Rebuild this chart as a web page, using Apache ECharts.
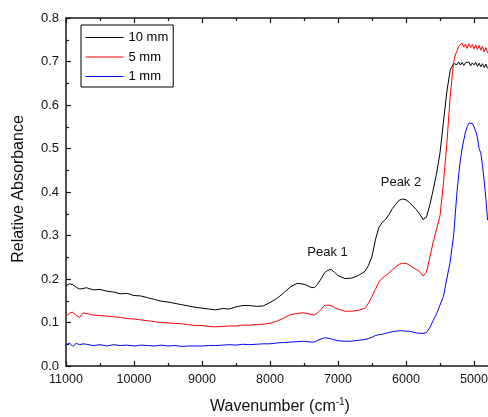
<!DOCTYPE html>
<html>
<head>
<meta charset="utf-8">
<style>
html,body{margin:0;padding:0;background:#fff;}
#chart{width:488px;height:417px;}
</style>
<script src="https://cdn.jsdelivr.net/npm/echarts@6/dist/echarts.min.js"></script>
</head>
<body>
<div id="chart"></div>
<script>
// Wavenumber grid (cm^-1)
const wavenumber = [11000,10950,10900,10850,10800,10750,10700,10600,10500,10400,10300,10200,10100,10000,9900,9800,9700,9600,9500,9400,9300,9200,9100,9000,8900,8800,8700,8600,8500,8400,8300,8200,8100,8000,7900,7800,7700,7600,7500,7400,7350,7300,7250,7200,7150,7100,7050,7000,6900,6800,6700,6600,6550,6500,6450,6400,6350,6300,6250,6200,6150,6100,6050,6000,5950,5900,5850,5800,5750,5700,5650,5600,5550,5500,5450,5400,5350,5300,5275,5250,5225,5200,5175,5150,5125,5100,5075,5050,5025,5000,4975,4950,4925,4900,4875,4850,4825,4800];

const seriesNames = ['10 mm', '5 mm', '1 mm'];

const abs10mm = [0.184,0.189,0.187,0.181,0.177,0.178,0.180,0.175,0.176,0.172,0.170,0.166,0.167,0.162,0.161,0.157,0.153,0.149,0.147,0.144,0.141,0.138,0.135,0.133,0.131,0.129,0.132,0.131,0.136,0.139,0.139,0.137,0.138,0.146,0.155,0.168,0.182,0.190,0.188,0.181,0.180,0.188,0.200,0.214,0.220,0.222,0.215,0.208,0.201,0.202,0.208,0.218,0.232,0.252,0.290,0.318,0.330,0.337,0.348,0.362,0.372,0.381,0.384,0.382,0.376,0.368,0.360,0.350,0.337,0.342,0.370,0.405,0.443,0.490,0.560,0.630,0.680,0.695,0.698,0.693,0.699,0.692,0.698,0.691,0.697,0.693,0.699,0.690,0.697,0.692,0.698,0.689,0.696,0.688,0.695,0.686,0.694,0.684];

const abs5mm = [0.115,0.121,0.124,0.116,0.112,0.122,0.121,0.117,0.116,0.115,0.113,0.112,0.109,0.108,0.106,0.104,0.102,0.100,0.099,0.098,0.097,0.095,0.093,0.093,0.091,0.090,0.091,0.092,0.092,0.094,0.094,0.095,0.096,0.098,0.103,0.110,0.118,0.121,0.122,0.119,0.117,0.122,0.130,0.139,0.140,0.139,0.134,0.131,0.126,0.126,0.128,0.133,0.145,0.160,0.176,0.193,0.202,0.208,0.214,0.221,0.228,0.234,0.236,0.236,0.232,0.227,0.222,0.217,0.207,0.215,0.250,0.285,0.315,0.345,0.420,0.510,0.620,0.698,0.715,0.724,0.735,0.731,0.742,0.733,0.740,0.730,0.741,0.732,0.739,0.729,0.738,0.728,0.737,0.726,0.735,0.722,0.732,0.720];

const abs1mm = [0.048,0.053,0.045,0.052,0.049,0.051,0.050,0.047,0.049,0.046,0.049,0.047,0.048,0.046,0.048,0.047,0.046,0.048,0.046,0.047,0.045,0.046,0.046,0.046,0.047,0.047,0.048,0.049,0.048,0.050,0.049,0.050,0.051,0.051,0.053,0.054,0.055,0.056,0.057,0.055,0.055,0.059,0.062,0.065,0.064,0.062,0.060,0.058,0.057,0.057,0.059,0.061,0.063,0.066,0.070,0.072,0.073,0.075,0.077,0.079,0.080,0.081,0.081,0.080,0.080,0.078,0.076,0.075,0.075,0.077,0.088,0.105,0.120,0.140,0.160,0.200,0.240,0.300,0.350,0.400,0.440,0.474,0.500,0.520,0.538,0.550,0.558,0.560,0.558,0.550,0.540,0.525,0.500,0.490,0.460,0.425,0.385,0.335];

const peakLabels = [
  {name: 'Peak 1', wn: 7154, y: 0.262},
  {name: 'Peak 2', wn: 6074, y: 0.421}
];

const FONT = '"Liberation Sans", Arial, Helvetica, sans-serif';

function pairs(vals) { return wavenumber.map((w, i) => [w, vals[i]]); }

const chart = echarts.init(document.getElementById('chart'), null, {renderer: 'canvas'});

const axisCommon = {
  type: 'value',
  inverse: true,
  min: 4000,
  max: 11000,
  interval: 1000,
  axisLine: {show: true, onZero: false, lineStyle: {color: '#1a1a1a', width: 1.5}},
  axisTick: {show: true, inside: true, length: 5, lineStyle: {color: '#1a1a1a', width: 1.2}},
  minorTick: {show: true, splitNumber: 2, length: 3, lineStyle: {color: '#1a1a1a', width: 1.2}},
  splitLine: {show: false},
  minorSplitLine: {show: false}
};

const option = {
  animation: false,
  backgroundColor: '#fff',
  textStyle: {fontFamily: FONT},
  grid: {left: 66, top: 18, width: 476, height: 348, containLabel: false, outerBoundsMode: 'none'},
  legend: {
    orient: 'vertical',
    left: 81, top: 25,
    data: seriesNames,
    borderColor: '#000', borderWidth: 1,
    padding: [6, 5, 4, 4],
    itemWidth: 38, itemHeight: 14, itemGap: 6.5,
    itemStyle: {opacity: 0},
    lineStyle: {width: 1},
    textStyle: {fontSize: 13, color: '#000', fontFamily: FONT},
    selectedMode: false
  },
  xAxis: [
    Object.assign({}, axisCommon, {
      position: 'bottom',
      axisLabel: {show: true, margin: 7, fontSize: 12.5, color: '#111', fontFamily: FONT, showMinLabel: true, showMaxLabel: true, formatter: v => String(v)}
    }),
    Object.assign({}, axisCommon, {
      position: 'top',
      axisLabel: {show: false}
    })
  ],
  yAxis: {
    type: 'value',
    min: 0, max: 0.8, interval: 0.1,
    axisLine: {show: true, lineStyle: {color: '#1a1a1a', width: 1.5}},
    axisTick: {show: true, inside: true, length: 5, lineStyle: {color: '#1a1a1a', width: 1.2}},
    minorTick: {show: true, splitNumber: 2, length: 3, lineStyle: {color: '#1a1a1a', width: 1.2}},
    splitLine: {show: false},
    axisLabel: {margin: 7, fontSize: 13, color: '#111', fontFamily: FONT, formatter: v => v.toFixed(1)}
  },
  graphic: [
    {
      type: 'text', x: 19, y: 189, rotation: Math.PI / 2,
      style: {text: 'Relative Absorbance', fontSize: 16, fontFamily: FONT, fill: '#111', align: 'center', verticalAlign: 'middle'}
    },
    {
      type: 'text', x: 280, y: 407,
      style: {
        text: '{a|Wavenumber (cm}{s|-1}{a|)}',
        align: 'center', verticalAlign: 'middle',
        rich: {
          a: {fontSize: 16, fontFamily: FONT, fill: '#111', lineHeight: 20},
          s: {fontSize: 10, fontFamily: FONT, fill: '#111', verticalAlign: 'top', lineHeight: 20}
        }
      }
    }
  ],
  series: [
    {
      name: seriesNames[0], type: 'line', xAxisIndex: 0, data: pairs(abs10mm),
      symbol: 'none', showSymbol: false, smooth: false,
      lineStyle: {color: '#000000', width: 1}, itemStyle: {color: '#000000'},
      markPoint: {
        symbol: 'circle', symbolSize: 0,
        data: peakLabels.map(p => ({name: p.name, coord: [p.wn, p.y]})),
        label: {show: true, position: 'inside', formatter: '{b}', color: '#111', fontSize: 13, fontFamily: FONT}
      }
    },
    {
      name: seriesNames[1], type: 'line', xAxisIndex: 0, data: pairs(abs5mm),
      symbol: 'none', showSymbol: false,
      lineStyle: {color: '#ff0000', width: 1}, itemStyle: {color: '#ff0000'}
    },
    {
      name: seriesNames[2], type: 'line', xAxisIndex: 0, data: pairs(abs1mm),
      symbol: 'none', showSymbol: false,
      lineStyle: {color: '#0000ff', width: 1}, itemStyle: {color: '#0000ff'}
    }
  ]
};

chart.setOption(option);
</script>
</body>
</html>
